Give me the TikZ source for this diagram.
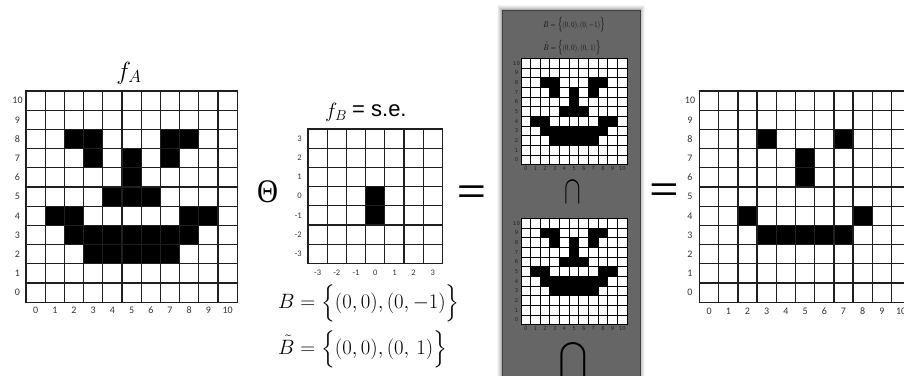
\documentclass[tikz,border=0pt]{standalone}
\usepackage{amsmath}
\usepackage{exscale}
\usepackage{fontspec}
\usepackage{graphicx}
\newfontfamily\carl{Carlito}
\newfontfamily\lsans{Liberation Sans}
\newfontfamily\lserif{Liberation Serif}
\newfontfamily\dvs{DejaVu Sans}
\definecolor{panelgray}{RGB}{102,102,102}
\newcommand\Bset{$B=\Bigl\{(0,0),(0,-1)\Bigr\}$}
\newcommand\Btset{$\tilde{B}=\Bigl\{(0,0),(0,\,1)\Bigr\}$}
\def\patA{2/8,3/8,7/8,8/8,3/7,5/7,7/7,5/6,4/5,5/5,6/5,1/4,2/4,8/4,9/4,2/3,3/3,4/3,5/3,6/3,7/3,8/3,3/2,4/2,5/2,6/2,7/2}
\def\patR{3/8,7/8,5/7,5/6,2/4,8/4,3/3,4/3,5/3,6/3,7/3}
% x0, ybottom, cell, rowshift, list
\newcommand\blackcells[5]{\foreach \cc/\rr in #5 {\fill[black] ({#1+\cc*#3},{#2-(\rr+#4)*#3}) rectangle ++({#3},{-#3});}}
% x0, top, cell, ncols, nrows, style
\newcommand\gridlines[6]{%
  \foreach \kk in {0,...,#4} {\draw[#6] ({#1+\kk*#3},#2) -- ++(0,{#5*#3});}
  \foreach \kk in {0,...,#5} {\draw[#6] (#1,{#2+\kk*#3}) -- ++({#4*#3},0);}}
\begin{document}
\begin{tikzpicture}[x=1pt,y=-1pt,
  gl/.style={line width=1.3pt,draw=black!88,line cap=rect},
  sgl/.style={line width=1pt,draw=black,line cap=rect},
  lbl/.style={font=\carl\fontsize{10}{12}\selectfont,text=black!80,inner sep=0},
  mlbl/.style={font=\carl\fontsize{8.5}{10}\selectfont,text=black!80,inner sep=0},
  plbl/.style={font=\dvs\fontsize{5.3}{6}\selectfont,text=black!85,inner sep=0},
  bigtxt/.style={inner sep=0}]
\useasboundingbox (0,0) rectangle (904,375);
\clip (0,0) rectangle (904,375);
\fill[white] (0,0) rectangle (904,375);

% ---------- left grid f_A ----------
\node[bigtxt,anchor=base] (fA) at (129,79) {\fontsize{24}{28}\selectfont$f_A$};
\blackcells{26}{302.2}{19.2}{0}{\patA}
\gridlines{26}{91}{19.2}{11}{11}{gl}
\foreach \k in {0,...,10} {
  \node[lbl] (lay\k) at (17.5,{302.2-(\k+0.5)*19.2}) {\k};
  \node[lbl] (lax\k) at ({26+(\k+0.5)*19.2},310.5) {\k};
}

% ---------- Theta ----------
\node[bigtxt] (theta) at (267.5,192) {\scalebox{0.88}[1]{\lserif\fontsize{33}{33}\selectfont Θ}};

% ---------- middle grid f_B ----------
\node[bigtxt,anchor=base west] (fB) at (325,117) {\fontsize{22}{26}\selectfont$f_B$};
\node[bigtxt,anchor=base west] (se) at (352,116) {\lsans\fontsize{22}{26}\selectfont= s.e.};
\fill[black] (365.6,186.6) rectangle (384.8,225);
\gridlines{308}{129}{19.2}{7}{7}{gl}
\foreach \k [evaluate=\k as \v using int(3-\k)] in {0,...,6} {
  \node[mlbl,anchor=east] (mby\k) at (302,{129+(\k+0.5)*19.2}) {\v};
}
\foreach \k [evaluate=\k as \v using int(\k-3)] in {0,...,6} {
  \node[mlbl] (mbx\k) at ({308+(\k+0.5)*19.2},273) {\v};
}
\node[bigtxt,anchor=west] (Bset) at (278,303) {\fontsize{21}{25}\selectfont\Bset};
\node[bigtxt,anchor=west] (Btset) at (278,349) {\fontsize{21}{25}\selectfont\Btset};

% ---------- equals signs ----------
\node[bigtxt] (eq1) at (471.5,194.5) {\scalebox{1.25}[0.9]{\lsans\fontsize{40}{40}\selectfont=}};
\node[bigtxt] (eq2) at (664,193) {\scalebox{1.25}[0.9]{\lsans\fontsize{40}{40}\selectfont=}};

% ---------- gray panel ----------
\foreach \d/\o in {5/0.04,4/0.05,3/0.06,2/0.08,1/0.1} {
  \fill[black,opacity=\o] ({502-\d},{10-\d}) rectangle ({640+\d},380);
}
\fill[panelgray] (502,10) rectangle (640,380);
\draw[black!75,line width=0.8pt] (502,10) rectangle (640,380);
\node[bigtxt] (pB) at (574,25) {\scalebox{0.34}[0.4]{\fontsize{21}{25}\selectfont\Bset}};
\node[bigtxt] (pBt) at (572,48) {\scalebox{0.34}[0.4]{\fontsize{21}{25}\selectfont\Btset}};

% top small grid (A)
\foreach \k in {0,...,10} {
  \node[plbl] (pty\k) at (516.5,{164.65-(\k+0.5)*9.65}) {\k};
  \node[plbl] (ptx\k) at ({521+(\k+0.5)*9.65},168.5) {\k};
}
\fill[white] (521,58.5) rectangle (627.15,164.65);
\blackcells{521}{164.65}{9.65}{0}{\patA}
\gridlines{521}{58.5}{9.65}{11}{11}{sgl}

% small cap
\node[bigtxt] (cap1) at (573,192.5) {\scalebox{1}[1.6]{\fontsize{28}{28}\selectfont$\cap$}};

% bottom small grid (A shifted up)
\foreach \k in {0,...,10} {
  \node[plbl] (pby\k) at (516.5,{324.65-(\k+0.5)*9.65}) {\k};
  \node[plbl] (pbx\k) at ({521+(\k+0.5)*9.65},328.5) {\k};
}
\fill[white] (521,218.5) rectangle (627.15,324.65);
\blackcells{521}{324.65}{9.65}{1}{\patA}
\gridlines{521}{218.5}{9.65}{11}{11}{sgl}

% big cap
\node[bigtxt,anchor=north] (cap2) at (573,340) {\fontsize{34}{34}\selectfont$\displaystyle\bigcap$};

% ---------- right grid (result) ----------
\blackcells{699.5}{302.2}{19.2}{0}{\patR}
\gridlines{699.5}{91}{19.2}{11}{11}{gl}
\foreach \k in {0,...,10} {
  \node[lbl] (ray\k) at (690,{302.2-(\k+0.5)*19.2}) {\k};
  \node[lbl] (rax\k) at ({699.5+(\k+0.5)*19.2},311.5) {\k};
}
\end{tikzpicture}
\end{document}
